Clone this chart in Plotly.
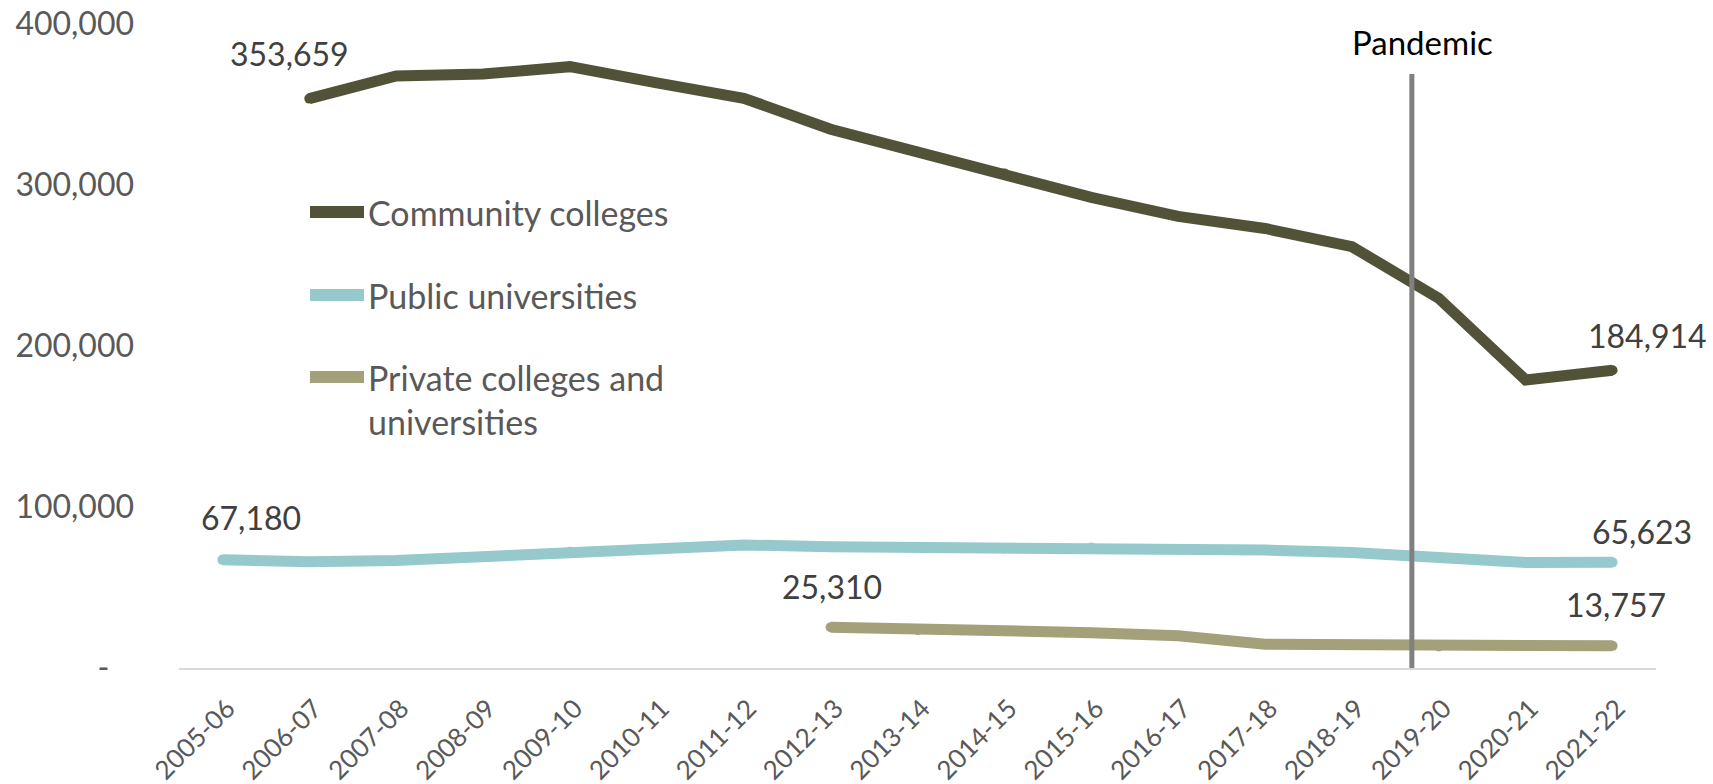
import plotly.graph_objects as go

# Academic years shown on the x axis
years = ["2005-06", "2006-07", "2007-08", "2008-09", "2009-10", "2010-11",
         "2011-12", "2012-13", "2013-14", "2014-15", "2015-16", "2016-17",
         "2017-18", "2018-19", "2019-20", "2020-21", "2021-22"]

# Enrollment by sector (None = no data for that year)
community_colleges = [None, 353659, 367700, 368900, 373500, 363400, 353900,
                      334600, 320700, 307200, 292300, 280500, 273000,
                      261700, 229600, 178900, 184914]
public_universities = [67180, 66000, 66800, 69100, 72200, 73700, 76400,
                       75300, 74900, 74300, 74900, 73300, 73300, 71800,
                       68500, 65600, 65623]
private_colleges = [None, None, None, None, None, None, None,
                    25310, 23600, 23200, 21900, 20000, 14700, 14300,
                    13400, 13600, 13757]

y_tick_values = [0, 100000, 200000, 300000, 400000]
y_tick_labels = ["-\u00a0\u00a0\u00a0", "100,000", "200,000", "300,000", "400,000"]

series_names = ["Community colleges", "Public universities",
                "Private colleges and<br>universities"]
series_colors = ["#525239", "#95C9CC", "#A3A17A"]
series_values = [community_colleges, public_universities, private_colleges]

pandemic_position = 13.69  # between 2018-19 and 2019-20

FONT = "Lato, 'Open Sans', sans-serif"
W, H = 1713, 784
M_L, M_R, M_T, M_B = 179, 57, 24, 116
PLOT_W = W - M_L - M_R
PLOT_H = H - M_T - M_B


def px_x(px):
    return (px - M_L) / PLOT_W


def px_y(py):
    return (H - M_B - py) / PLOT_H


fig = go.Figure()

for name, color, values in zip(series_names, series_colors, series_values):
    fig.add_trace(go.Scatter(
        x=years, y=values, mode="lines+markers", name=name.replace("<br>", " "),
        line=dict(color=color, width=11),
        marker=dict(color=color, size=10),
        connectgaps=False, showlegend=False, hoverinfo="skip",
    ))


def first_last(values):
    idx = [i for i, v in enumerate(values) if v is not None]
    return idx[0], idx[-1]


# Value labels at the start and end of each series
label_offsets = [((-20, 45), (35, 35)), ((29, 42), (29, 31)), ((1, 41), (3, 41))]
for values, offs in zip(series_values, label_offsets):
    i0, i1 = first_last(values)
    for i, (dx, dy) in zip((i0, i1), offs):
        fig.add_annotation(
            x=years[i], y=values[i], text=f"{values[i]:,}", showarrow=False,
            xshift=dx, yshift=dy, xanchor="center", yanchor="middle",
            font=dict(family=FONT, size=32, color="#404040"),
        )

# Legend drawn inside the plot area
legend_rows = [212, 295, 377]
for name, color, row in zip(series_names, series_colors, legend_rows):
    fig.add_shape(type="line", xref="paper", yref="paper",
                  x0=px_x(310), x1=px_x(364), y0=px_y(row), y1=px_y(row),
                  line=dict(color=color, width=12))
    two_lines = "<br>" in name
    fig.add_annotation(
        xref="paper", yref="paper", x=px_x(366),
        y=px_y(row + 22) if two_lines else px_y(row),
        text=name, showarrow=False, xanchor="left", yanchor="middle", align="left",
        font=dict(family=FONT, size=34, color="#595959"),
    )

# Pandemic marker
fig.add_shape(type="line", xref="x", yref="paper",
              x0=pandemic_position, x1=pandemic_position, y0=0, y1=px_y(74),
              line=dict(color="#808080", width=5), layer="above")
fig.add_annotation(xref="x", yref="paper", x=pandemic_position, y=px_y(42),
                   xshift=11, text="Pandemic", showarrow=False,
                   xanchor="center", yanchor="middle",
                   font=dict(family=FONT, size=33, color="#000000"))

fig.update_layout(
    width=W, height=H,
    margin=dict(l=M_L, r=M_R, t=M_T, b=M_B, pad=0, autoexpand=False),
    paper_bgcolor="white", plot_bgcolor="white",
    showlegend=False,
    font=dict(family=FONT, color="#595959"),
)
fig.update_xaxes(
    type="category", categoryorder="array", categoryarray=years,
    range=[-0.5, len(years) - 0.5], automargin=False,
    showgrid=False, zeroline=False,
    showline=True, linecolor="#D9D9D9", linewidth=2,
    ticks="", tickangle=-45, ticklabelstandoff=13, ticklabelshift=5,
    tickfont=dict(family=FONT, size=26, color="#595959"),
)
fig.update_yaxes(
    range=[0, 400000], tickvals=y_tick_values, ticktext=y_tick_labels,
    automargin=False,
    showgrid=False, zeroline=False, showline=False, ticks="",
    ticklabelstandoff=44,
    tickfont=dict(family=FONT, size=32, color="#595959"),
)

fig.write_html("out.html")
